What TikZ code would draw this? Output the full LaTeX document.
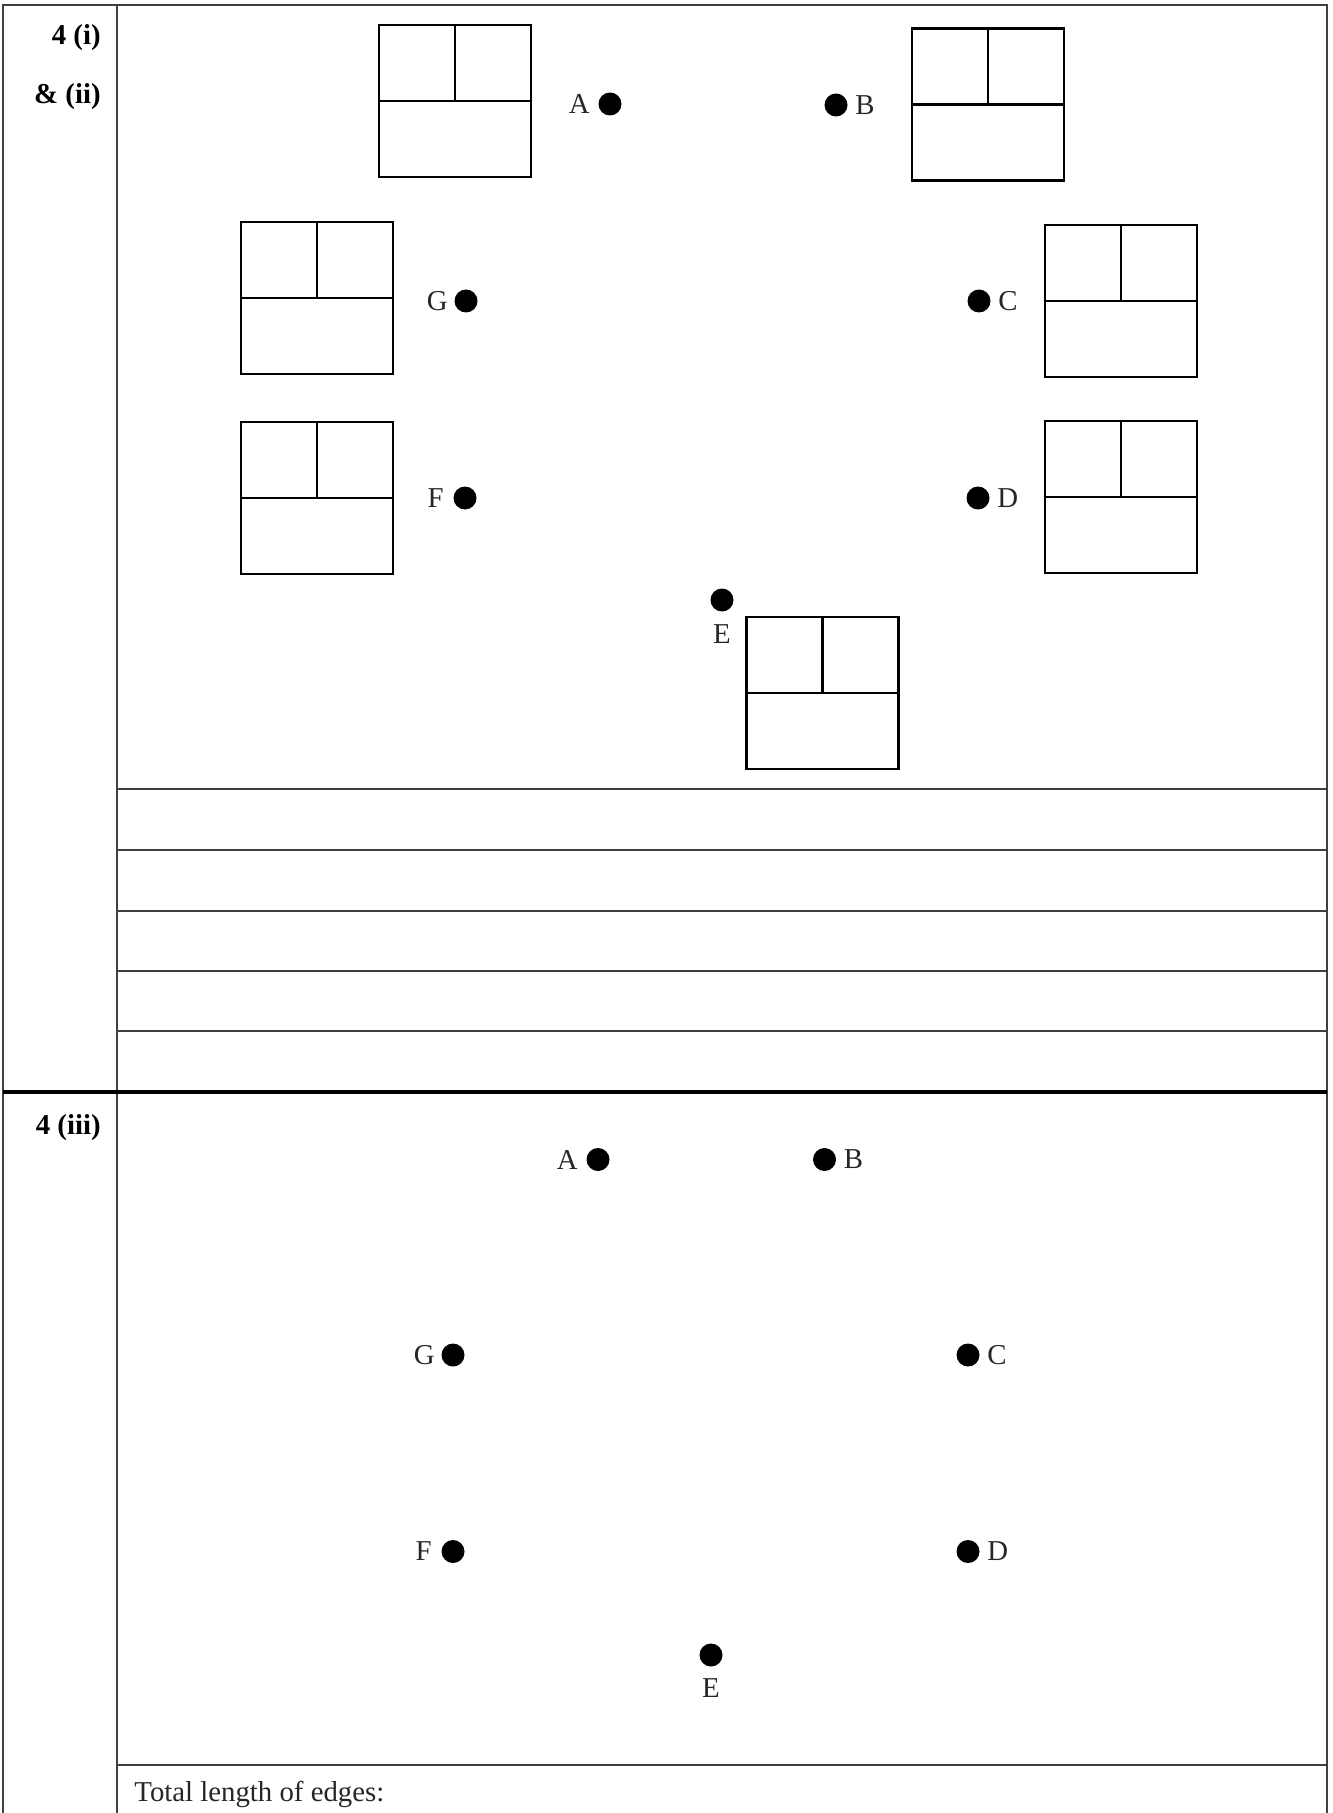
\documentclass[tikz,border=0pt]{standalone}
\usepackage{fontspec}
\setmainfont{Liberation Serif}
\usetikzlibrary{positioning}

\begin{document}
\begin{tikzpicture}[
  x=0.5pt, y=-0.5pt, font=\fontsize{14.4}{17}\selectfont,
  rule/.style={line width=0.6pt, draw=black!75},
  heavy/.style={line width=2pt, draw=black},
  plan/.style={draw, line width=1.1pt, minimum width=76pt, minimum height=76pt, inner sep=0pt},
  wall/.style={line width=1.1pt},
  pt/.style={circle, fill=black, inner sep=0pt, minimum size=11.5pt},
  lbl/.style={inner sep=0pt, text=black!85},
  part/.style={font=\fontsize{14.4}{17}\selectfont\bfseries, anchor=base east, inner sep=0pt},
]
\useasboundingbox (0,0) rectangle (1332,1813);

\draw[rule] (3,1813) -- (3,5) -- (1327,5) -- (1327,1813);
\draw[rule] (117,5) -- (117,1813);
\foreach \y in {789,850,911,971,1031,1765}
  \draw[rule] (117,\y) -- (1327,\y);
\draw[heavy] (3,1092) -- (1327,1092);

\node[part] (q12a) at (101,45) {4 (i)};
\node[part] (q12b) at (101,104) {\& (ii)};
\node[part] (q3) at (101,1134) {4 (iii)};
\node[lbl, anchor=base west] (total) at (134,1801) {Total length of edges:};

\foreach \n/\x/\y in {pa/455/101, pb/988/104.5, pg/317/298, pc/1121/301,
                      pf/317/498, pd/1121/497, pe/822.5/693} {
  \node[plan] (\n) at (\x,\y) {};
  \draw[wall] (\n.west) -- (\n.east) (\n.north) -- (\n.center);
}

\foreach \n/\x/\y/\s/\d in {A/610/104/left/4pt, B/836/105/right/3.5pt,
                            G/466/301/left/3pt, C/979/301/right/3.5pt,
                            F/465/498/left/4.5pt, D/978/498/right/3.5pt,
                            E/722/600/below/6pt} {
  \node[pt] (\n1) at (\x,\y) {};
  \node[lbl, \s=\d of \n1] (\n1l) {\n};
}

\foreach \n/\x/\y/\s/\d in {A/598/1159.5/left/4pt, B/824.5/1159.5/right/3.5pt,
                            G/453/1355/left/3pt, C/968/1355/right/3.5pt,
                            F/453/1551.5/left/4.5pt, D/968/1551.5/right/3.5pt,
                            E/711/1655/below/5.5pt} {
  \node[pt] (\n2) at (\x,\y) {};
  \node[lbl, \s=\d of \n2] (\n2l) {\n};
}
\end{tikzpicture}
\end{document}
